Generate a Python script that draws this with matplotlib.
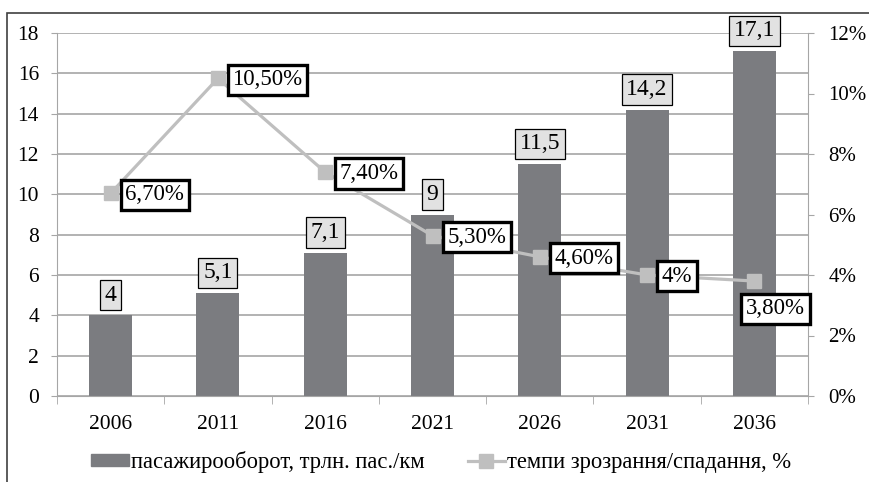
import numpy as np
import matplotlib.pyplot as plt
from matplotlib.patches import Rectangle
from matplotlib.lines import Line2D

plt.rcParams['font.family'] = ['Liberation Serif', 'DejaVu Serif']
plt.rcParams['font.size'] = 15

years = ['2006', '2011', '2016', '2021', '2026', '2031', '2036']
turnover = [4, 5.1, 7.1, 9, 11.5, 14.2, 17.1]
turnover_labels = ['4', '5,1', '7,1', '9', '11,5', '14,2', '17,1']
growth = [6.7, 10.5, 7.4, 5.3, 4.6, 4.0, 3.8]
growth_labels = ['6,70%', '10,50%', '7,40%', '5,30%', '4,60%', '4%', '3,80%']
left_ticks = [0, 2, 4, 6, 8, 10, 12, 14, 16, 18]
right_ticks = [0, 2, 4, 6, 8, 10, 12]

bar_color = '#7B7C80'
line_color = '#BFBFBF'
axis_color = '#A6A6A6'

fig = plt.figure(figsize=(8.69, 4.82), dpi=100)
ax = fig.add_axes([57 / 869, 1 - 396 / 482, (808 - 57) / 869, (396 - 33) / 482])
ax2 = ax.twinx()

x = np.arange(len(years))
ax.bar(x, turnover, width=0.4, color=bar_color, zorder=2)
ax.set_xlim(-0.5, len(years) - 0.5)
ax.set_ylim(0, 18)
ax.set_yticks(left_ticks)
ax.yaxis.grid(True, color=axis_color, lw=1.2, zorder=0)
ax.set_axisbelow(True)
ax.set_xticks(x)
ax.set_xticklabels(years, fontsize=15.5)
ax.set_xticks(np.arange(-0.5, len(years)), minor=True)
ax.tick_params(axis='x', which='major', length=0, pad=14)
ax.tick_params(axis='x', which='minor', length=6, color=axis_color)
ax.tick_params(axis='y', length=4, color=axis_color, pad=9, labelsize=15.5)

ax.spines['top'].set_visible(False)
ax.spines['right'].set_visible(False)
ax.spines['left'].set_color(axis_color)
ax.spines['bottom'].set_color(axis_color)
ax2.spines['top'].set_visible(False)
ax2.spines['left'].set_visible(False)
ax2.spines['bottom'].set_visible(False)
ax2.spines['right'].set_color(axis_color)

ax2.plot(x, growth, color=line_color, lw=2.3, marker='s', ms=9.5, zorder=3)
ax2.set_ylim(0, 12)
ax2.set_yticks(right_ticks)
ax2.set_yticklabels(['%d%%' % t for t in right_ticks])
ax2.tick_params(axis='y', length=4.5, color=axis_color, pad=10, labelsize=15)

# подписи столбцов
for xi, v, lab in zip(x, turnover, turnover_labels):
    ax.annotate(lab, (xi, v), xytext=(0, 7), textcoords='offset points',
                ha='center', va='bottom', fontsize=17, zorder=5,
                bbox=dict(boxstyle='square,pad=0.2', fc='#E2E2E2', ec='black', lw=0.9))

# подписи линии (последнюю опускаем под точку, чтобы не залезала на ось)
for i, (xi, v, lab) in enumerate(zip(x, growth, growth_labels)):
    off = (10.5, -1) if i < len(growth) - 1 else (-6, -20)
    ax2.annotate(lab, (xi, v), xytext=off, textcoords='offset points',
                 ha='left', va='center', fontsize=16.5, zorder=6,
                 bbox=dict(boxstyle='square,pad=0.2', fc='white', ec='black', lw=2.4))

handles = [Rectangle((0, 0), 1, 1, color=bar_color),
           Line2D([], [], color=line_color, lw=2.3, marker='s', ms=9.5)]
fig.legend(handles, ['пасажирооборот, трлн. пас./км', 'темпи зрозрання/спадання, %'],
           loc='center', bbox_to_anchor=(0.508, 0.041), ncol=2, frameon=False,
           fontsize=16.3, handlelength=1.65, handleheight=0.45,
           handletextpad=0.1, columnspacing=1.9)

# рамка
fig.patches.append(Rectangle((7 / 869, -0.1), 1.2, 1 - 13 / 482 + 0.1,
                             transform=fig.transFigure, fill=False, ec='#404040', lw=1.2))

plt.savefig('out.png', dpi=100)
